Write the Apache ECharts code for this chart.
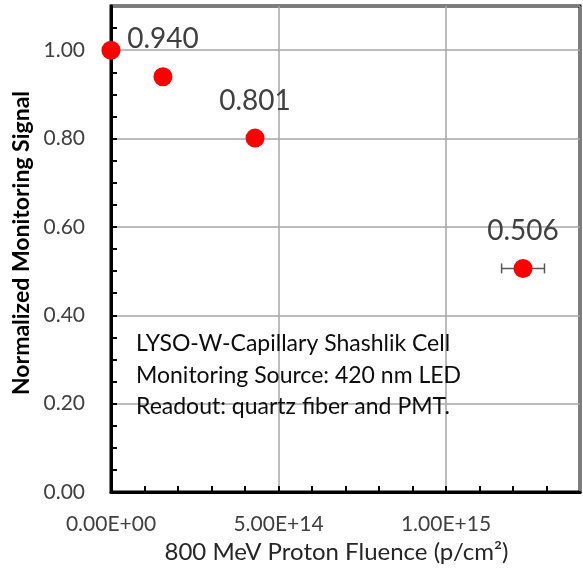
<!DOCTYPE html>
<html>
<head>
<meta charset="utf-8">
<script src="https://cdn.jsdelivr.net/npm/echarts@6/dist/echarts.min.js"></script>
<style>
  html, body { margin: 0; padding: 0; background: #fff; }
  #main { width: 583px; height: 569px; }
</style>
</head>
<body>
<div id="main"></div>
<script>
// data
var fluence = [0, 1.55e14, 4.3e14, 1.23e15];      // p/cm2
var signal = [1.000, 0.940, 0.801, 0.506];
var fluenceErr = [0, 0, 0, 6.4e13];
var showValue = [false, true, true, true];
var noteLines = [
    'LYSO-W-Capillary Shashlik Cell',
    'Monitoring Source: 420 nm LED',
    'Readout: quartz fiber and PMT.'
];

var FONT = 'Lato, "Open Sans", sans-serif';

function sci(v) {
    // Excel style 0.00E+00
    var s = v.toExponential(2).toUpperCase();
    var m = s.split('E');
    var sign = m[1].charAt(0);
    var exp = m[1].slice(1);
    if (exp.length < 2) exp = '0' + exp;
    return m[0] + 'E' + sign + exp;
}
function isMultiple(v, step) {
    var r = v / step;
    return Math.abs(r - Math.round(r)) < 1e-6;
}

var myChart = echarts.init(document.getElementById('main'));

var pointData = fluence.map(function (x, i) {
    return {
        value: [x, signal[i]],
        label: { show: showValue[i] }
    };
});

var errData = fluence.map(function (x, i) {
    return [x, signal[i], fluenceErr[i]];
});

var option = {
    backgroundColor: '#fff',
    animation: false,
    grid: {
        left: 111, right: 3, top: 6, bottom: 77,
        outerBoundsMode: 'none',
        containLabel: false,
        show: true,
        borderColor: '#000',
        borderWidth: 3,
        backgroundColor: 'transparent'
    },
    graphic: noteLines.map(function (t, i) {
        return {
            type: 'text',
            x: 136,
            y: 344 + i * 31.5,
            z: 50,
            style: {
                text: t,
                fill: '#0d0d0d',
                font: '23px ' + FONT,
                verticalAlign: 'middle'
            }
        };
    }),
    xAxis: [{
        // main axis: minor ticks every 1e14, labels at 5e14
        type: 'value',
        min: 0,
        max: 1.4e15,
        interval: 1e14,
        position: 'bottom',
        name: '800 MeV Proton Fluence (p/cm²)',
        nameLocation: 'middle',
        nameGap: 48,
        nameTextStyle: { color: '#262626', fontSize: 24, fontFamily: FONT, padding: [0, 18, 0, 0] },
        axisLine: { lineStyle: { color: '#000', width: 3 } },
        axisTick: { inside: true, length: 6, lineStyle: { color: '#000', width: 2 } },
        axisLabel: {
            color: '#404040',
            fontSize: 21,
            fontFamily: FONT,
            margin: 22,
            showMaxLabel: false,
            formatter: function (v) { return isMultiple(v, 5e14) ? sci(v) : ''; }
        },
        splitLine: { show: false }
    }, {
        // grid lines only
        type: 'value',
        min: 0,
        max: 1.4e15,
        interval: 5e14,
        position: 'top',
        axisLine: { show: false },
        axisTick: { show: false },
        axisLabel: { show: false },
        splitLine: { show: true, lineStyle: { color: '#a6a6a6', width: 1.5 } }
    }],
    yAxis: [{
        type: 'value',
        min: 0,
        max: 1.1,
        interval: 0.05,
        position: 'left',
        name: 'Normalized Monitoring Signal',
        nameLocation: 'middle',
        nameGap: 75,
        nameTextStyle: { color: '#000', fontSize: 23, fontWeight: 'bold', fontFamily: FONT, padding: [0, 0, 0, 12] },
        axisLine: { lineStyle: { color: '#000', width: 3 } },
        axisTick: { inside: true, length: 6, lineStyle: { color: '#000', width: 2 } },
        axisLabel: {
            color: '#404040',
            fontSize: 21,
            fontFamily: FONT,
            margin: 26,
            showMaxLabel: false,
            formatter: function (v) { return isMultiple(v, 0.2) ? v.toFixed(2) : ''; }
        },
        splitLine: { show: false }
    }, {
        type: 'value',
        min: 0,
        max: 1.1,
        interval: 0.2,
        position: 'right',
        axisLine: { show: false },
        axisTick: { show: false },
        axisLabel: { show: false },
        splitLine: { show: true, lineStyle: { color: '#a6a6a6', width: 1.5 } }
    }],
    series: [{
        type: 'custom',
        xAxisIndex: 0,
        yAxisIndex: 0,
        z: 3,
        data: errData,
        renderItem: function (params, api) {
            var e = api.value(2);
            if (!e) return null;
            var p1 = api.coord([api.value(0) - e, api.value(1)]);
            var p2 = api.coord([api.value(0) + e, api.value(1)]);
            var st = { stroke: '#595959', lineWidth: 1.5 };
            return {
                type: 'group',
                children: [
                    { type: 'line', shape: { x1: p1[0], y1: p1[1], x2: p2[0], y2: p2[1] }, style: st },
                    { type: 'line', shape: { x1: p1[0], y1: p1[1] - 5, x2: p1[0], y2: p1[1] + 5 }, style: st },
                    { type: 'line', shape: { x1: p2[0], y1: p2[1] - 5, x2: p2[0], y2: p2[1] + 5 }, style: st }
                ]
            };
        }
    }, {
        type: 'scatter',
        xAxisIndex: 0,
        yAxisIndex: 0,
        z: 5,
        symbol: 'circle',
        symbolSize: 19,
        itemStyle: { color: '#ff0000', opacity: 1 },
        label: {
            position: 'top',
            distance: 14,
            color: '#404040',
            fontSize: 28,
            fontFamily: FONT,
            formatter: function (p) { return p.value[1].toFixed(3); }
        },
        data: pointData
    }]
};

myChart.setOption(option);
</script>
</body>
</html>
